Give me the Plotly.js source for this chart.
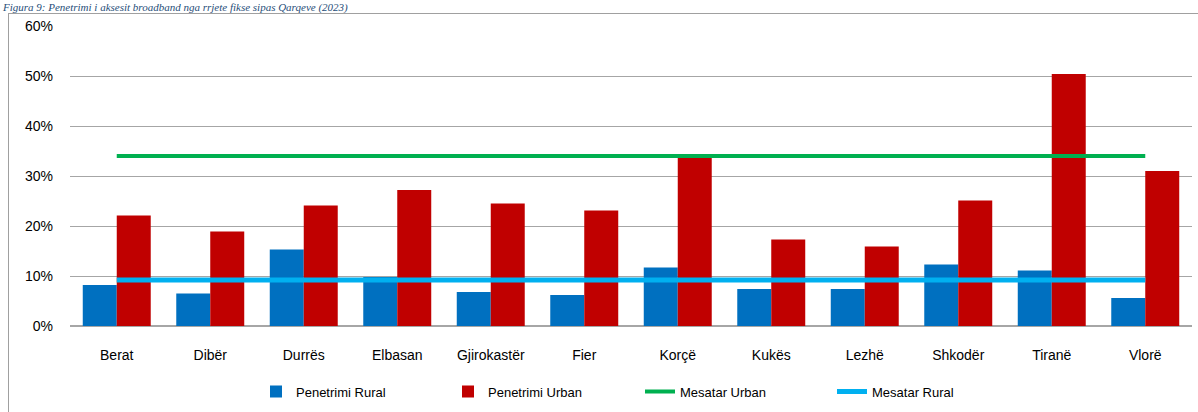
<!DOCTYPE html>
<html>
<head>
<meta charset="utf-8">
<script src="https://cdn.plot.ly/plotly-3.0.1.min.js"></script>
<style>
html,body{margin:0;padding:0;background:#fff;overflow:hidden;}
#wrap{position:relative;width:1198px;height:412px;overflow:hidden;}
#chart{position:absolute;left:0;top:0;width:1198px;height:412px;}
#frame{position:absolute;left:8px;top:13px;width:1300px;height:500px;border-left:1px solid #A0A0A0;border-top:1px solid #A0A0A0;pointer-events:none;}
</style>
</head>
<body>
<div id="wrap"><div id="chart"></div><div id="frame"></div></div>
<script>
const qarqet = ["Berat","Dibër","Durrës","Elbasan","Gjirokastër","Fier","Korçë","Kukës","Lezhë","Shkodër","Tiranë","Vlorë"];
const penetrimiRural = [0.082,0.065,0.153,0.098,0.068,0.062,0.117,0.074,0.074,0.123,0.111,0.056];
const penetrimiUrban = [0.221,0.189,0.241,0.272,0.245,0.231,0.338,0.173,0.159,0.251,0.504,0.310];
const mesatarUrban = qarqet.map(() => 0.340);
const mesatarRural = qarqet.map(() => 0.092);
const yTicks = [0,0.1,0.2,0.3,0.4,0.5,0.6];
const yTickText = ["0%","10%","20%","30%","40%","50%","60%"];
const titleText = "Figura 9: Penetrimi i aksesit broadband nga rrjete fikse sipas Qarqeve (2023)";

const font = "Liberation Sans, Arial, sans-serif";
const L = 70, R = 6, T = 26, B = 84;
const W = 1198, H = 412;
const pw = W - L - R, ph = H - T - B;
const px = v => (v - L) / pw;
const py = v => (H - B - v) / ph;

const traces = [
  {type:"bar", name:"Penetrimi Rural", x:qarqet, y:penetrimiRural, marker:{color:"#0070C0", line:{width:0}}},
  {type:"bar", name:"Penetrimi Urban", x:qarqet, y:penetrimiUrban, marker:{color:"#C00000", line:{width:0}}},
  {type:"scatter", mode:"lines", name:"Mesatar Urban", x:qarqet, y:mesatarUrban, line:{color:"#00B050", width:4}},
  {type:"scatter", mode:"lines", name:"Mesatar Rural", x:qarqet, y:mesatarRural, line:{color:"#00B0F0", width:5}}
];

const layout = {
  width:W, height:H,
  margin:{l:L, r:R, t:T, b:B, pad:0},
  paper_bgcolor:"rgba(0,0,0,0)", plot_bgcolor:"rgba(0,0,0,0)",
  barmode:"group", bargap:0.273, bargroupgap:0,
  font:{family:font, size:13, color:"#000"},
  showlegend:true,
  legend:{orientation:"h", x:px(256), xanchor:"left", y:py(394), yanchor:"middle",
          font:{family:font, size:13, color:"#000"}, itemwidth:30, entrywidth:147, entrywidthmode:"pixels",
          traceorder:"normal", bgcolor:"rgba(0,0,0,0)"},
  xaxis:{type:"category", range:[-0.5,11.5], showgrid:false, zeroline:false, showline:false,
         ticks:"", tickfont:{family:font, size:14, color:"#000"}, ticklabelstandoff:19, fixedrange:true},
  yaxis:{range:[0,0.6], tickvals:yTicks, ticktext:yTickText, showgrid:true, gridcolor:"#A6A6A6", gridwidth:1,
         zeroline:true, zerolinecolor:"#A6A6A6", zerolinewidth:1.5, showline:false, ticks:"",
         tickfont:{family:font, size:14, color:"#000"}, ticklabelstandoff:16, fixedrange:true},
  annotations:[
    {text:titleText, xref:"paper", yref:"paper", x:px(1), xanchor:"left", y:py(0), yanchor:"top",
     showarrow:false, borderpad:0,
     font:{family:"Liberation Serif, serif", size:11, color:"#1F4E79", style:"italic"}}
  ]
};

Plotly.newPlot("chart", traces, layout, {displayModeBar:false, staticPlot:true});
</script>
</body>
</html>
